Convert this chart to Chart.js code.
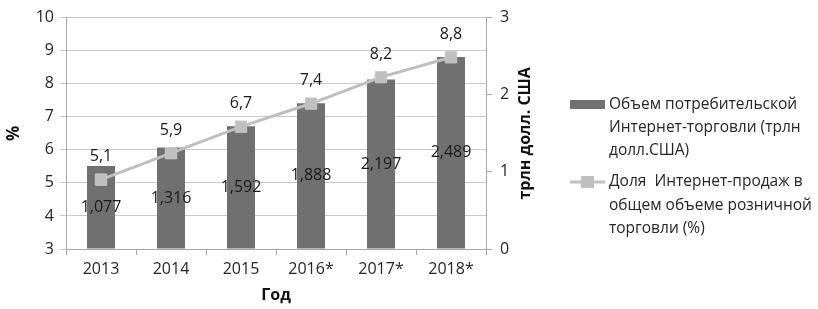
<!DOCTYPE html>
<html>
<head>
<meta charset="utf-8">
<script src="https://cdn.jsdelivr.net/npm/chart.js@4"></script>
<style>
html, body { margin: 0; padding: 0; background: #fff; }
#wrap { width: 818px; height: 309px; }
</style>
</head>
<body>
<div id="wrap"><canvas id="shopChart" width="818" height="309"></canvas></div>
<script>
const years = ['2013', '2014', '2015', '2016*', '2017*', '2018*'];
const volume = [1.077, 1.316, 1.592, 1.888, 2.197, 2.489];   // трлн долл. США
const share = [5.1, 5.9, 6.7, 7.4, 8.2, 8.8];                // %
const volumeLabel = ['Объем потребительской', 'Интернет-торговли (трлн', 'долл.США)'];
const shareLabel = ['Доля  Интернет-продаж в', 'общем объеме розничной', 'торговли (%)'];
const rightTitle = 'трлн долл. США';

const FONT = '"Open Sans", sans-serif';
const fmt = (v, d) => v.toFixed(d).replace('.', ',');

const labelsPlugin = {
    id: 'valueLabels',
    afterDatasetsDraw(chart) {
        const c = chart.ctx;
        c.save();
        c.font = '16px ' + FONT;
        c.fillStyle = '#1a1a1a';
        c.textAlign = 'center';
        c.textBaseline = 'middle';
        chart.getDatasetMeta(0).data.forEach((p, i) => {
            c.fillText(fmt(share[i], 1), p.x, p.y - 23);
        });
        chart.getDatasetMeta(1).data.forEach((b, i) => {
            c.fillText(fmt(volume[i], 3), b.x, (b.y + b.base) / 2);
        });
        c.restore();
    },
    afterDraw(chart) {
        const c = chart.ctx;
        c.save();
        // right axis title, reading bottom to top
        const a = chart.chartArea;
        c.translate(chart.scales.y1.right - 11, (a.top + a.bottom) / 2);
        c.rotate(-Math.PI / 2);
        c.font = 'bold 16px ' + FONT;
        c.fillStyle = '#111';
        c.textAlign = 'center';
        c.textBaseline = 'middle';
        c.fillText(rightTitle, 0, 0);
        c.restore();

        c.save();
        c.font = '15.5px ' + FONT;
        c.textBaseline = 'middle';
        const lx = 570, tx = 609;
        c.fillStyle = '#707070';
        c.fillRect(lx, 100, 35, 9);
        c.fillStyle = '#262626';
        volumeLabel.forEach((t, i) => c.fillText(t, tx, 105 + i * 23));
        c.strokeStyle = '#bfbfbf';
        c.lineWidth = 3;
        c.beginPath(); c.moveTo(lx, 182); c.lineTo(lx + 35, 182); c.stroke();
        c.fillStyle = '#bfbfbf';
        c.fillRect(lx + 11, 176, 13, 12);
        c.fillStyle = '#262626';
        shareLabel.forEach((t, i) => c.fillText(t, tx, 182 + i * 23.5));
        c.restore();
    }
};

new Chart(document.getElementById('shopChart'), {
    data: {
        labels: years,
        datasets: [{
            type: 'line',
            data: share,
            yAxisID: 'y',
            borderColor: '#bfbfbf',
            borderWidth: 3,
            pointStyle: 'rect',
            pointRadius: 8,
            pointBackgroundColor: '#bfbfbf',
            pointBorderColor: '#c8c8c8',
            pointBorderWidth: 1,
            order: 0
        }, {
            type: 'bar',
            data: volume,
            yAxisID: 'y1',
            backgroundColor: '#707070',
            categoryPercentage: 1,
            barPercentage: 0.4,
            order: 1
        }]
    },
    plugins: [labelsPlugin],
    options: {
        responsive: false,
        animation: false,
        layout: { padding: { top: 9, right: 282, left: 0, bottom: 0 } },
        plugins: { legend: { display: false }, tooltip: { enabled: false } },
        scales: {
            x: {
                grid: { offset: true, drawOnChartArea: false, tickLength: 6, color: '#a6a6a6' },
                border: { color: '#a6a6a6' },
                ticks: { color: '#262626', font: { family: FONT, size: 16 }, padding: 5 },
                title: { display: true, text: 'Год', color: '#111', font: { family: FONT, size: 16, weight: 'bold' }, padding: { top: 5 } },
                afterFit(s) { s.height = 60; }
            },
            y: {
                position: 'left',
                min: 3, max: 10,
                ticks: { stepSize: 1, color: '#262626', font: { family: FONT, size: 16 }, padding: 6 },
                grid: { color: '#c8c8c8', tickLength: 6 },
                border: { color: '#a6a6a6' },
                title: { display: true, text: '%', color: '#111', font: { family: FONT, size: 17, weight: 'bold' } },
                afterFit(s) { s.width = 66; }
            },
            y1: {
                position: 'right',
                min: 0, max: 3,
                ticks: { stepSize: 1, color: '#262626', font: { family: FONT, size: 16 }, padding: 8 },
                grid: { drawOnChartArea: false, tickLength: 6, color: '#a6a6a6' },
                border: { color: '#a6a6a6' },
                afterFit(s) { s.width = 50; }
            }
        }
    }
});
</script>
</body>
</html>
